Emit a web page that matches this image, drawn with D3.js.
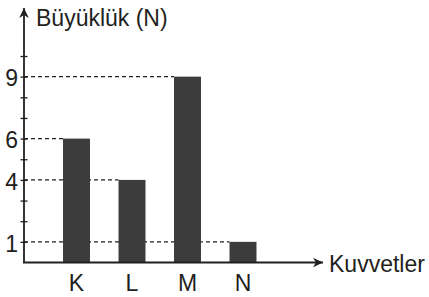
<!DOCTYPE html>
<html>
  <head>
    <meta charset="utf-8">
    <script src="https://cdn.jsdelivr.net/npm/d3@7"></script>
    <style>
      body { margin: 0; background: #fff; }
      text { font-family: "Liberation Sans", Arial, sans-serif; fill: #231f20; }
      .axis .domain { display: none; }
      .axis .tick line { stroke: #231f20; stroke-width: 1.3px; }
      .axis .tick text { font-size: 23px; }
    </style>
  </head>
  <body>
    <svg width="429" height="297"></svg>
    <script>
      const categories = ["K", "L", "M", "N"];
      const values = [6, 4, 9, 1];
      const yTicks = [1, 2, 3, 4, 5, 6, 7, 8, 9, 10];
      const yLabel = "Büyüklük (N)";
      const xLabel = "Kuvvetler";

      const svg = d3.select("svg");
      const origin = {x: 24, y: 262.5};
      const ink = "#231f20";

      const xScale = d3.scaleBand()
        .domain(categories)
        .range([origin.x, 295.5])
        .paddingInner(0.514)
        .paddingOuter(0.703);

      const yScale = d3.scaleLinear()
        .domain([0, 10])
        .range([origin.y, 56]);

      const defs = svg.append("defs");
      defs.append("marker")
          .attr("id", "arrow")
          .attr("viewBox", "-11 -6 12 12")
          .attr("refX", 0)
          .attr("refY", 0)
          .attr("markerWidth", 12)
          .attr("markerHeight", 12)
          .attr("markerUnits", "userSpaceOnUse")
          .attr("orient", "auto")
        .append("path")
          .attr("d", "M0,0 L-10,-4.8 L-7,0 L-10,4.8 Z")
          .attr("fill", ink);

      const data = categories.map((c, i) => ({cat: c, value: values[i]}));

      // dashed guides from the axis to each bar
      svg.append("g")
        .selectAll("line")
        .data(data)
        .enter().append("line")
          .attr("x1", origin.x)
          .attr("x2", d => xScale(d.cat))
          .attr("y1", d => yScale(d.value))
          .attr("y2", d => yScale(d.value))
          .attr("stroke", ink)
          .attr("stroke-width", 1.2)
          .attr("stroke-dasharray", "4,3");

      svg.append("g")
        .selectAll("rect")
        .data(data)
        .enter().append("rect")
          .attr("x", d => xScale(d.cat))
          .attr("y", d => yScale(d.value))
          .attr("width", xScale.bandwidth())
          .attr("height", d => origin.y - yScale(d.value))
          .attr("fill", "#3c3c3c");

      // y axis ticks and labels
      const yAxis = d3.axisLeft(yScale)
        .tickValues(yTicks)
        .tickSize(0)
        .tickPadding(6)
        .tickFormat(d => values.includes(d) ? d : "");
      const gy = svg.append("g")
          .attr("class", "axis")
          .attr("transform", `translate(${origin.x},0)`)
          .call(yAxis);
      gy.selectAll(".tick line")
          .attr("x1", -3.5)
          .attr("x2", 3.5);
      gy.selectAll(".tick text")
          .attr("dy", "0.4em");

      // axis lines with arrows
      svg.append("line")
          .attr("x1", origin.x).attr("y1", origin.y)
          .attr("x2", origin.x).attr("y2", 8)
          .attr("stroke", ink)
          .attr("stroke-width", 1.8)
          .attr("marker-end", "url(#arrow)");
      svg.append("line")
          .attr("x1", origin.x - 1).attr("y1", origin.y)
          .attr("x2", 323).attr("y2", origin.y)
          .attr("stroke", ink)
          .attr("stroke-width", 1.8)
          .attr("marker-end", "url(#arrow)");

      // category labels
      svg.append("g")
        .selectAll("text")
        .data(categories)
        .enter().append("text")
          .attr("x", d => xScale(d) + xScale.bandwidth() / 2)
          .attr("y", 291)
          .attr("text-anchor", "middle")
          .attr("font-size", 23)
          .text(d => d);

      svg.append("text")
          .attr("x", 36)
          .attr("y", 26)
          .attr("font-size", 23)
          .text(yLabel);

      svg.append("text")
          .attr("x", 329)
          .attr("y", 272)
          .attr("font-size", 23)
          .text(xLabel);
    </script>
  </body>
</html>
